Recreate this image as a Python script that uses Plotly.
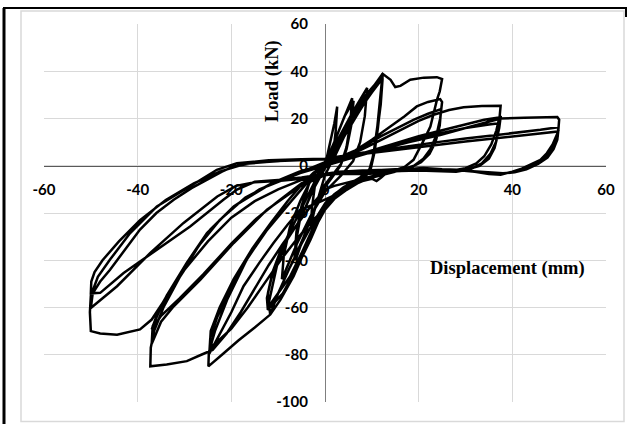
import plotly.graph_objects as go

# ---------------- data (displacement mm, load kN), cycle by cycle ----------------
disp_c01 = [0, 1.0, 2.0, 2.6, 2.3, 1.8, 1.0, 0, -1.2, -2.4, -3.0, -2.8, -2.2, -1.3, 0]
load_c01 = [0, 9, 18, 25, 15, 6, 0, -4, -12, -20, -26, -18, -9, -2, 1]

disp_c02 = [2, 4, 5.8, 5.4, 4.6, 3.5, 1.5, 0, -2, -4, -6.3, -6.0, -5.0, -3.5, -1.5, 0]
load_c02 = [10, 20, 28.6, 18, 8, 1, -4, -8, -17, -27, -40, -30, -19, -8, -1, 1]

disp_c03 = [2.2, 4.2, 6.1, 5.6, 4.6, 3.3, 1.5, 0, -2.2, -4.3, -6.5, -6.1, -5.0, -3.3, -1.5, 0]
load_c03 = [11, 21, 27.5, 17, 7, 0, -5, -9, -18, -29, -39, -28, -17, -7, -1, 1.5]

disp_c04 = [3, 6, 9, 8.5, 7.5, 6, 3.5, 0, -3, -6, -9.2, -8.8, -7.5, -5.3, -2.5, 0]
load_c04 = [12, 23, 33, 21, 10, 2, -4, -11, -21, -33, -48, -38, -26, -15, -4, 1]

disp_c05 = [2.5, 5, 7.9, 10.5, 12.3, 11.8, 11.2, 10.5, 9.7, 8.2, 4.7, 2, 0, -1.5, -3.1, -5, -6.7,
            -9.5, -11.7, -12.0, -11.2, -10.3, -8.1, -5.3, -2.5, 0, 1.5]
load_c05 = [10, 18, 28, 34, 38.9, 28, 17, 7, -1.7, -5.9, -10.1, -14, -18.6, -24, -31.3, -39, -46.8,
            -56.7, -63, -58, -50, -42.6, -31.3, -22.8, -10, -1, 1.5]

disp_c06 = [4, 7, 9.5, 12.3, 11.9, 11.3, 10.6, 9.8, 8, 5, 2.5, 0, -2, -4, -6, -9, -12.2, -12.4,
            -11.5, -10, -8, -5.5, -3, -0.5, 1]
load_c06 = [12, 22, 30, 38, 27, 16, 6, -1, -5.5, -9, -12.5, -17, -25, -34, -43, -54, -61, -56,
            -48, -40, -30, -20, -10, -2, 1.5]

disp_c07 = [4, 7.5, 10, 12.3, 11.9, 11.2, 10.4, 9.5, 7.5, 4.5, 2, 0, -2.5, -5, -7.5, -10, -12,
            -12.2, -11.2, -9.5, -7, -4.5, -2, 0]
load_c07 = [13, 24, 31, 37, 26, 15, 5, -1.5, -5, -8.5, -12, -16, -26, -37, -47, -54, -59.5,
            -54, -45, -36, -26, -16, -6, 0]

disp_c08 = [3, 6, 9, 11, 12.3, 14, 15, 16.1, 18.2, 21.1, 23.9, 25, 24.5, 23.9, 23.2, 22.5, 21.4,
            20.4, 18.9, 17, 15, 13, 12, 11, 10, 8, 5, 2.5, 0, -2.5, -5, -7.5, -10, -11.7, -15,
            -18.5, -22, -24.9, -24.8, -23.5, -20.9, -16.7, -12.4, -8.8, -5, -2, 0]
load_c08 = [11, 21, 30, 35, 38.9, 36.4, 33.3, 33.8, 36.4, 37.3, 37.5, 36.7, 31.5, 27.9, 22, 16.6, 12,
            8.2, 2.5, -0.5, -2, -3.2, -5, -6.5, -5.5, -6.5, -9, -12, -16, -24, -33, -43, -54, -63, -68.5,
            -74, -80, -84.9, -79, -70, -56.7, -39.7, -27, -18.6, -10, -3, 1]

disp_c09 = [3, 6.5, 10, 14, 17, 19.6, 22, 24.6, 25, 24.6, 23.8, 22.5, 21, 19, 16, 13, 10, 7, 4, 1.5,
            -1.7, -5.3, -8, -11, -14, -17.4, -20, -22.5, -24.7, -24.5, -23, -20.5, -16.5, -12.5, -9,
            -5.5, -2.5, 0]
load_c09 = [3.5, 6.5, 11, 16.6, 21, 25.1, 27, 28.2, 27, 20, 13, 7, 3, 0, -2, -3, -4.5, -6, -9, -13,
            -15.8, -18.6, -25, -32.7, -41, -51, -62, -71, -79.5, -73, -64, -54, -39, -27.5, -19,
            -11, -4, 1.5]

disp_c10 = [4, 8, 12, 16, 19, 22, 24.8, 24.5, 23.6, 22.3, 20.5, 18, 15, 12, 8.2, 4.7, 2, -0.3, -3,
            -6, -9.5, -13, -16.5, -20, -23, -24.6, -24.4, -22.5, -19.5, -15.5, -11.5, -8, -5, -2.5, 0]
load_c10 = [4, 8, 12.5, 16.5, 19.5, 22, 24, 17, 10, 5, 1.5, -1, -2.5, -3.8, -5.9, -10.1, -13, -18.6, -24,
            -31, -40, -50, -60, -69, -74.5, -77, -70, -60, -48, -35, -24, -15, -8, -3, 0.5]

disp_c11 = [4, 8, 12, 16, 20, 23.2, 26.5, 29.6, 33.5, 37.5, 37.3, 36.6, 35.5, 34, 32.3, 30, 28.2, 25,
            21, 17, 14, 11, 8, 5, 2, 0, -3, -6, -9, -12, -15, -18, -21, -24, -26.3, -29.5, -33.8,
            -37.3, -37.2, -36.5, -34.5, -31, -27, -22.5, -17, -11, -5.5, 0]
load_c11 = [3.5, 7, 11, 15, 19, 21.6, 23.6, 24.8, 25.3, 25.4, 21, 15, 9, 4, 1, -1, -1.7, -1.5,
            -1, -1.5, -2.5, -4, -5.5, -7, -8.5, -10, -17, -25, -33, -42, -52, -62, -71, -78, -79.9, -82.7, -84.1,
            -84.9, -77, -70, -60, -47, -34, -23, -13.5, -7, -2.5, 0.5]

disp_c12 = [5, 10, 15, 20, 25, 30, 34, 37.5, 37.2, 36.5, 35.3, 33.5, 31, 28, 24, 20, 16, 12.5, 9, 5, 2,
            0, -5.3, -12.4, -19.5, -26.6, -32.3, -35, -37, -36.8, -35.5, -33.8, -29.5, -25.2, -19.5,
            -12.4, -5.3, 0]
load_c12 = [3.5, 6.5, 9.5, 12.5, 15, 17.5, 19.5, 20.5, 16, 10, 5, 1, -1.5, -2.5, -2.2, -2, -2.2, -3, -3.5,
            -3.5, -3.5, -4, -8.7, -18.6, -32.7, -48.2, -59.5, -66, -75.4, -68, -62, -55, -41, -28.5, -17.2,
            -8.7, -3.1, 0]

disp_c13 = [6, 12, 18, 24, 30, 35, 37.2, 36.9, 36.2, 35, 33, 30.5, 27, 22, 17, 12, 7, 3, 0, -5, -10,
            -15, -20, -26, -31, -35, -37, -35.5, -33.5, -31, -28, -24.5, -19.5, -14, -8, -3, 0]
load_c13 = [3.5, 7, 10.5, 13.5, 16, 17.5, 18, 13, 7.5, 3, 0, -1.5, -2, -1.8, -2, -2.5, -3, -3, -3.5,
            -7.5, -15, -23, -33, -46, -56, -63.5, -69.3, -61, -54, -46, -37, -27, -17.2, -10, -5, -1, 1.5]

disp_c14 = [6, 12, 18, 24.6, 30, 34, 37.5, 42.5, 49.6, 50, 49.8, 48.6, 47.4, 46, 44.6, 43, 41.7, 39.5,
            37.5, 35, 32, 28, 24, 20, 15, 10, 5, 0, -5, -10, -15, -20, -25, -30, -34, -37, -39.5,
            -44.4, -48, -50, -50.2, -50, -48.5, -45.9, -41.6, -35.9, -28.8, -23.1, -18.8, -12, -5, 0]
load_c14 = [4.5, 7, 10, 13, 16, 18, 20, 20.3, 20.6, 19.5, 14.5, 9, 5.4, 2.5, 0.4, -1, -1.7, -3,
            -3.8, -3.5, -2.5, -1.7, -1.5, -1.2, -1.5, -2, -2.5, -3.5, -6, -10, -15, -22, -32, -44, -56, -65.1, -69.3,
            -71.5, -71, -70, -62, -55, -47, -39.7, -28.5, -17.2, -8.7, -1.7, 1.1, 2.3, 2.7, 3]

disp_c15 = [8, 16, 24, 30, 36.7, 42, 46, 49.8, 49.7, 49, 47.8, 46, 44, 42, 40, 38, 35.5, 32, 28, 22,
            16, 10, 4, 0, -5, -10, -15, -19, -23, -30.2, -37.3, -44.4, -48, -50, -49.6, -48, -45.9,
            -42.5, -39.5, -36, -32.3, -28.5, -25.2, -22, -19.5, -15, -8, 0]
load_c15 = [5.5, 7.8, 10, 11.5, 13, 14.3, 15.2, 16.3, 12.5, 8.5, 5, 2.5, 0.5, -1.2, -2.5, -3.5, -3.5,
            -2.5, -1.8, -1.5, -1.8, -2.3, -2.8, -4, -5.5, -6.5, -7, -8.5, -13, -24.2, -36.9, -51, -57,
            -60.2, -54, -49, -44, -35, -27, -20, -14.4, -9.5, -5.9, -2.5, -0.3, 1.3, 2.2, 2.8]

disp_c16 = [8, 16, 24, 30, 36, 42, 46.5, 49.8, 49.6, 48.8, 47.5, 45.5, 43, 40.5, 38, 35, 31, 26, 20,
            14, 8, 3, 0, -5, -10, -15, -18.8, -21.7, -28.8, -35.9, -43, -48, -50, -49.9, -49.2,
            -47.5, -44, -39.5, -34, -28, -22.5, -17, -10, -3, 0]
load_c16 = [5, 7, 9, 10.3, 11.5, 12.7, 13.6, 14.5, 11, 7, 3.5, 0.8, -1.5, -2.8, -3.2, -2.8, -2, -1.6,
            -1.3, -1.6, -2, -2.5, -3.5, -5, -6, -6.8, -10.1, -14.4, -25.7, -35.5, -45.4, -53.8, -54, -49,
            -45, -40, -32, -23, -14.5, -7.5, -2.5, 0.8, 2, 2.5, 2.8]

x_ticks = [-60, -40, -20, 0, 20, 40, 60]
y_ticks = [-100, -80, -60, -40, -20, 0, 20, 40, 60]
x_title = "Displacement (mm)"
y_title = "Load (kN)"

cycles_d = [disp_c01, disp_c02, disp_c03, disp_c04, disp_c05, disp_c06, disp_c07, disp_c08,
            disp_c09, disp_c10, disp_c11, disp_c12, disp_c13, disp_c14, disp_c15, disp_c16]
cycles_l = [load_c01, load_c02, load_c03, load_c04, load_c05, load_c06, load_c07, load_c08,
            load_c09, load_c10, load_c11, load_c12, load_c13, load_c14, load_c15, load_c16]

disp, load = [], []
for d, l in zip(cycles_d, cycles_l):
    disp += d
    load += l

# ---------------- layout geometry ----------------
W, H = 634, 424
ML, MR, MT, MB = 44, 28, 24, 22
PW, PH = W - ML - MR, H - MT - MB


def px(x):
    return (x - ML) / PW


def py(y):
    return (H - MB - y) / PH


fig = go.Figure()
fig.add_trace(go.Scatter(x=disp, y=load, mode="lines",
                         line=dict(color="black", width=2.5), hoverinfo="skip",
                         showlegend=False))

tick_font = dict(family="Lato", size=15, color="black", weight="bold")
xmin, xmax, ymin, ymax = -60, 60, -100, 60

fig.update_xaxes(range=[xmin, xmax], tickvals=x_ticks, ticktext=[str(v) for v in x_ticks],
                 showgrid=True, gridcolor="#d9d9d9", gridwidth=1, zeroline=False,
                 showline=True, linecolor="#595959", linewidth=1.3,
                 anchor="free", position=(0 - ymin) / (ymax - ymin),
                 ticks="", ticklabelstandoff=10, tickfont=tick_font, layer="below traces",
                 fixedrange=True)
fig.update_yaxes(range=[ymin, ymax], tickvals=y_ticks, ticktext=[str(v) for v in y_ticks],
                 showgrid=True, gridcolor="#d9d9d9", gridwidth=1, zeroline=False,
                 showline=True, linecolor="#7f7f7f", linewidth=1.3,
                 anchor="free", position=(0 - xmin) / (xmax - xmin),
                 ticks="", ticklabelstandoff=14, tickfont=tick_font, layer="below traces",
                 fixedrange=True)

title_font = dict(family="Liberation Serif", size=18.5, color="black", weight="bold")
fig.add_annotation(text=y_title, x=px(272), y=py(81), xref="paper", yref="paper",
                   textangle=-90, showarrow=False, font=title_font,
                   xanchor="center", yanchor="middle")
fig.add_annotation(text=x_title, x=px(507.5), y=py(268.5), xref="paper", yref="paper",
                   showarrow=False, font=title_font, xanchor="center", yanchor="middle")

# chart frame
fig.add_shape(type="rect", xref="paper", yref="paper", x0=px(21), x1=px(624), y0=py(421.5), y1=py(11),
              line=dict(color="#d9d9d9", width=1.5), layer="above")
fig.add_shape(type="line", xref="paper", yref="paper", x0=px(4), x1=px(4), y0=py(8), y1=py(424),
              line=dict(color="black", width=3))
fig.add_shape(type="line", xref="paper", yref="paper", x0=px(3), x1=px(627), y0=py(8), y1=py(8),
              line=dict(color="black", width=2))
fig.add_shape(type="line", xref="paper", yref="paper", x0=px(626), x1=px(626), y0=py(8), y1=py(17),
              line=dict(color="black", width=2))

fig.update_layout(width=W, height=H, margin=dict(l=ML, r=MR, t=MT, b=MB),
                  paper_bgcolor="white", plot_bgcolor="white", showlegend=False)

fig.write_html("out.html", config={"displayModeBar": False},
               post_script="document.body.style.margin='0';document.body.style.overflow='hidden';")
